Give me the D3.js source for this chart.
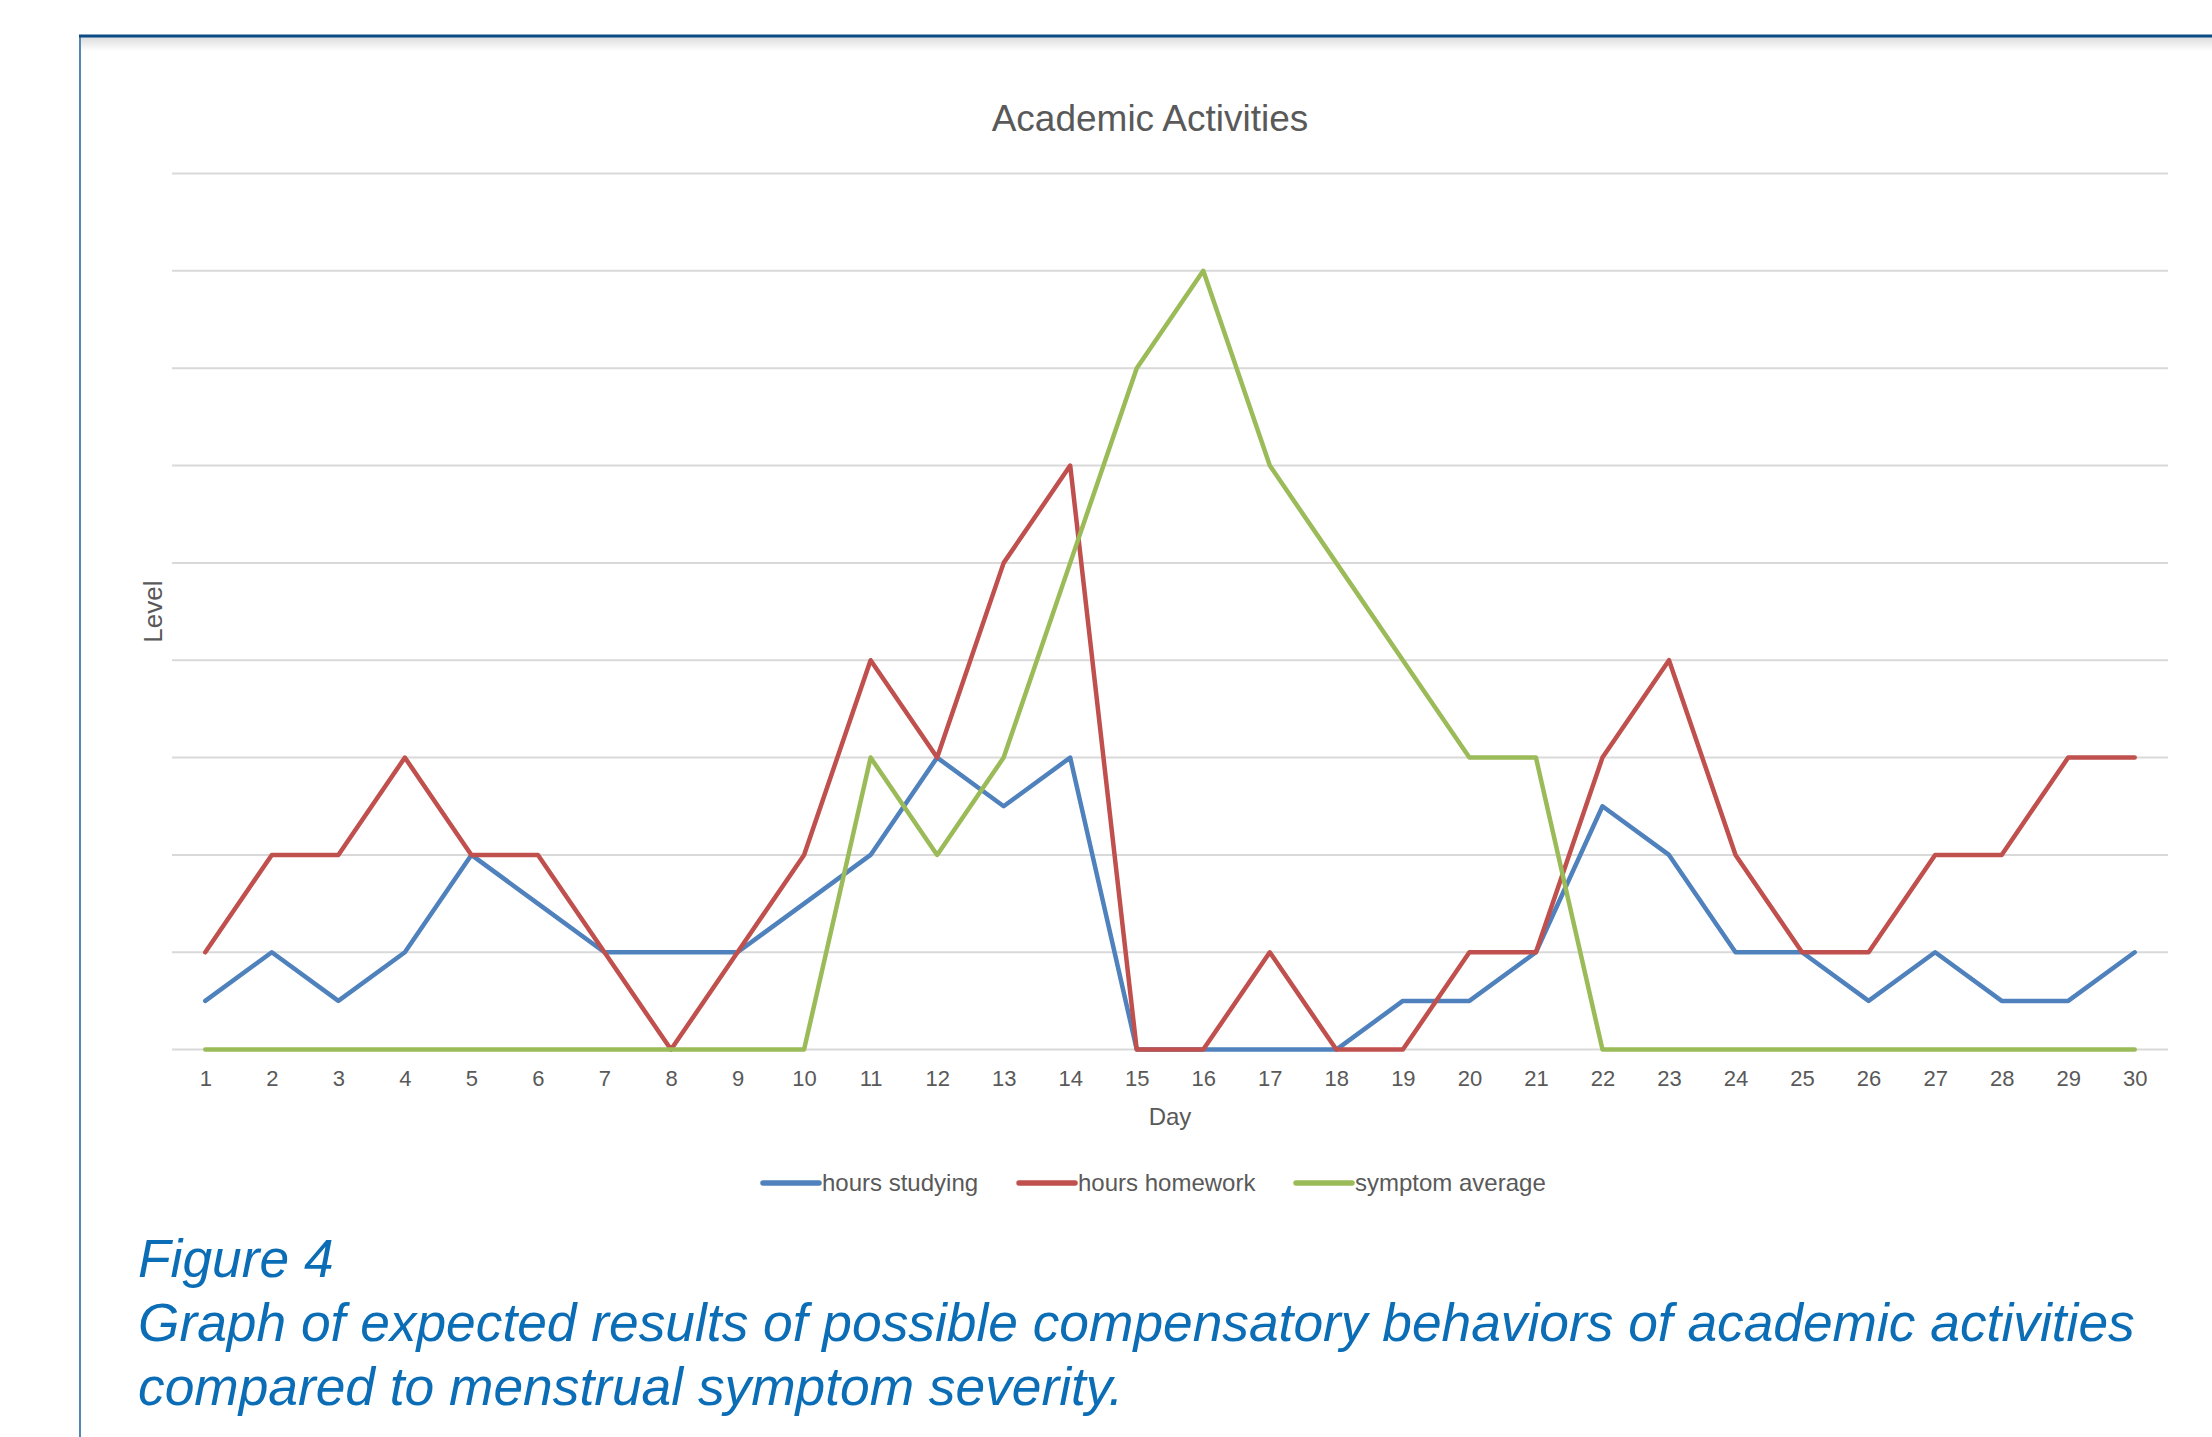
<!DOCTYPE html>
<html>
<head>
<meta charset="utf-8">
<script src="https://cdn.jsdelivr.net/npm/d3@7"></script>
<style>
  html, body { margin: 0; padding: 0; background: #ffffff; }
  svg { display: block; }
  text { font-family: "Liberation Sans", Arial, sans-serif; }
</style>
</head>
<body>
<script>
// ---- data ----
const days = [1,2,3,4,5,6,7,8,9,10,11,12,13,14,15,16,17,18,19,20,21,22,23,24,25,26,27,28,29,30];
const hoursStudying = [0.5,1,0.5,1,2,1.5,1,1,1,1.5,2,3,2.5,3,0,0,0,0,0.5,0.5,1,2.5,2,1,1,0.5,1,0.5,0.5,1];
const hoursHomework = [1,2,2,3,2,2,1,0,1,2,4,3,5,6,0,0,1,0,0,1,1,3,4,2,1,1,2,2,3,3];
const symptomAverage = [0,0,0,0,0,0,0,0,0,0,3,2,3,5,7,8,6,5,4,3,3,0,0,0,0,0,0,0,0,0];
const seriesNames = ["hours studying", "hours homework", "symptom average"];
const seriesColors = ["#4F81BD", "#C0504D", "#9BBB59"];
const yTicks = [0,1,2,3,4,5,6,7,8,9];
const chartTitle = "Academic Activities";
const xTitle = "Day";
const yTitle = "Level";
const captionLines = ["Figure 4",
  "Graph of expected results of possible compensatory behaviors of academic activities",
  "compared to menstrual symptom severity."];

// ---- layout ----
const W = 2212, H = 1437;
const plot = { left: 172, right: 2168, top: 173.5, bottom: 1049.6 };
const textColor = "#595959";

const svg = d3.select("body").append("svg").attr("width", W).attr("height", H);

// frame with shadow
const defs = svg.append("defs");
const grad = defs.append("linearGradient").attr("id", "shadow").attr("x1", 0).attr("y1", 0).attr("x2", 0).attr("y2", 1);
grad.append("stop").attr("offset", "0%").attr("stop-color", "#dcdcdc");
grad.append("stop").attr("offset", "100%").attr("stop-color", "#ffffff");
svg.append("rect").attr("x", 81).attr("y", 37).attr("width", W - 81).attr("height", 14).attr("fill", "url(#shadow)");
svg.append("line").attr("x1", 80).attr("x2", 80).attr("y1", 35).attr("y2", H)
  .attr("stroke", "#2b6aa3").attr("stroke-width", 1.6);
svg.append("line").attr("x1", 79).attr("x2", W).attr("y1", 36).attr("y2", 36)
  .attr("stroke", "#0b4b85").attr("stroke-width", 3);

// scales
const x = d3.scalePoint().domain(days).range([plot.left, plot.right]).padding(0.5);
const y = d3.scaleLinear().domain([0, 9]).range([plot.bottom, plot.top]);

// gridlines
svg.append("g").selectAll("line").data(yTicks).join("line")
  .attr("x1", plot.left).attr("x2", plot.right)
  .attr("y1", d => y(d)).attr("y2", d => y(d))
  .attr("stroke", "#d9d9d9").attr("stroke-width", 2);

// x axis
const xAxis = svg.append("g").attr("transform", `translate(0,${plot.bottom})`)
  .call(d3.axisBottom(x).tickSize(0).tickPadding(21));
xAxis.select(".domain").remove();
xAxis.selectAll("text").attr("font-size", 22).attr("fill", textColor)
  .style("font-family", '"Liberation Sans", Arial, sans-serif');

// titles
svg.append("text").attr("x", 1150).attr("y", 131)
  .attr("text-anchor", "middle").attr("font-size", 37).attr("fill", textColor).text(chartTitle);
svg.append("text").attr("x", (plot.left + plot.right) / 2).attr("y", 1125)
  .attr("text-anchor", "middle").attr("font-size", 24).attr("fill", textColor).text(xTitle);
svg.append("text").attr("transform", `translate(162,${(plot.top + plot.bottom) / 2}) rotate(-90)`)
  .attr("text-anchor", "middle").attr("font-size", 26).attr("fill", textColor).text(yTitle);

// lines
const allSeries = [hoursStudying, hoursHomework, symptomAverage];
const line = d3.line().x((d, i) => x(days[i])).y(d => y(d));
svg.append("g").selectAll("path").data(allSeries).join("path")
  .attr("d", d => line(d))
  .attr("fill", "none")
  .attr("stroke", (d, i) => seriesColors[i])
  .attr("stroke-width", 4.5)
  .attr("stroke-linejoin", "round")
  .attr("stroke-linecap", "round");

// legend
const legendY = 1183;
const legendStarts = [763, 1019, 1296];
const lg = svg.append("g");
seriesNames.forEach((name, i) => {
  lg.append("line").attr("x1", legendStarts[i]).attr("x2", legendStarts[i] + 56)
    .attr("y1", legendY).attr("y2", legendY)
    .attr("stroke", seriesColors[i]).attr("stroke-width", 5.5).attr("stroke-linecap", "round");
  lg.append("text").attr("x", legendStarts[i] + 59).attr("y", legendY + 8)
    .attr("font-size", 24).attr("fill", textColor).text(name);
});

// caption
const capBase = [1277, 1341, 1405];
svg.append("g").selectAll("text").data(captionLines).join("text")
  .attr("x", 138).attr("y", (d, i) => capBase[i])
  .attr("font-size", 53.3).attr("font-style", "italic").attr("fill", "#0b6db5")
  .text(d => d);
</script>
</body>
</html>
